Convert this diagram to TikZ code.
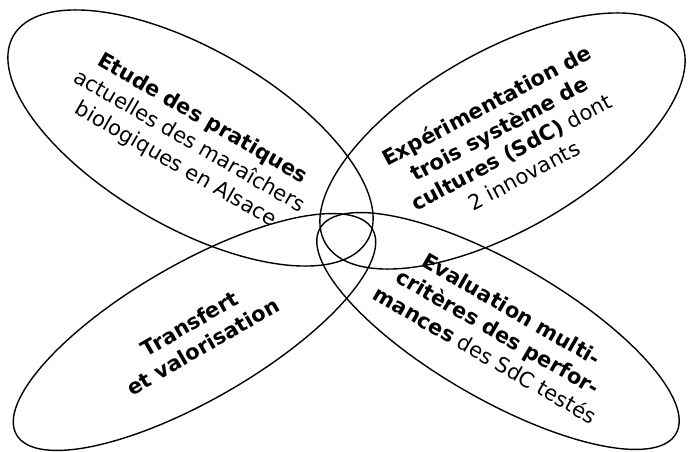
\documentclass[tikz,border=0pt]{standalone}
\usepackage{fontspec}
\setmainfont{DejaVu Sans}
\usetikzlibrary{shapes.geometric}
\begin{document}
\begin{tikzpicture}[x=1pt,y=-1pt,
  petal/.style={draw=black, line width=1.4pt, ellipse, inner sep=0pt, outer sep=0pt},
  fat/.style={minimum width=409pt, minimum height=178pt},
  slim/.style={minimum width=411pt, minimum height=136pt},
  petaltext/.style={align=center, inner sep=0pt, font=\fontsize{21}{26.5}\selectfont}]
\useasboundingbox (0,0) rectangle (689,452);

% four petals meeting in the middle
\node[petal, fat,  rotate=-30] (etude)  at (190.5,138) {};
\node[petal, fat,  rotate=30]  (experi) at (502.5,141) {};
\node[petal, slim, rotate=30]  (transf) at (194.5,332) {};
\node[petal, slim, rotate=-30] (evalu)  at (498,331) {};

% petal texts
\node[petaltext, rotate=-30] (etudetxt) at (189,142)
  {\textbf{Etude des pratiques}\\actuelles des maraîchers\\biologiques en Alsace};
\node[petaltext, rotate=28] (experitxt) at (505,140)
  {\textbf{Expérimentation de}\\\textbf{trois système de}\\\textbf{cultures (SdC)} dont\\2 innovants};
\node[petaltext, rotate=30] (transftxt) at (196,335)
  {\textbf{Transfert}\\\textbf{et valorisation}};
\node[petaltext, rotate=-30] (evalutxt) at (498.5,332)
  {\textbf{Evaluation multi-}\\\textbf{critères des perfor-}\\\textbf{mances} des SdC testés};
\end{tikzpicture}
\end{document}
